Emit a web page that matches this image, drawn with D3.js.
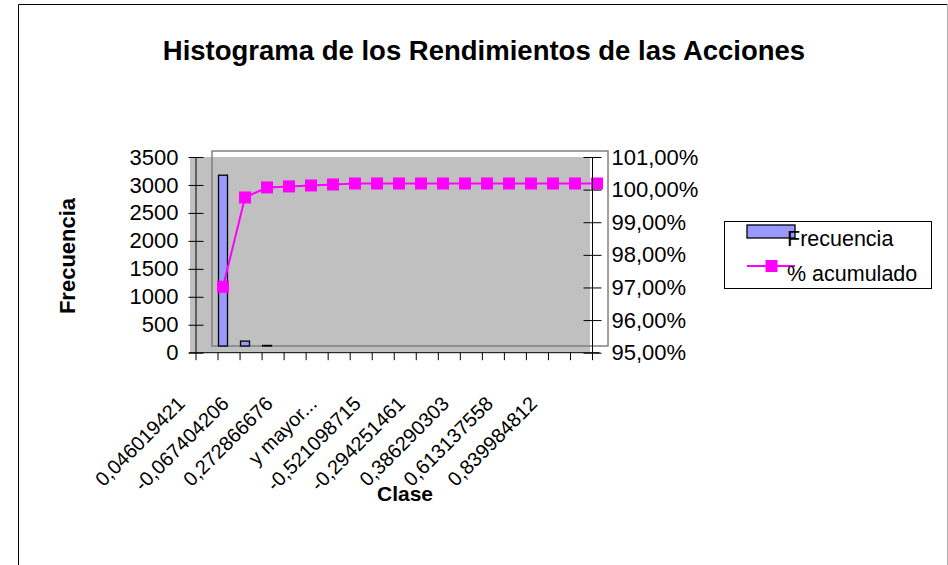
<!DOCTYPE html>
<html>
<head>
<meta charset="utf-8">
<script src="https://cdn.jsdelivr.net/npm/d3@7"></script>
<style>
body { margin: 0; background: #fff; }
svg { display: block; }
text { font-family: "Liberation Sans", Arial, sans-serif; fill: #000; }
</style>
</head>
<body>
<div id="graph"></div>
<script>
// valores (18 clases, solo se rotula una de cada dos)
var frecuencia = [3066, 88, 10, 1, 1, 1, 1, 0, 0, 0, 0, 0, 0, 0, 0, 0, 0, 0];
var acumulado = [96.82, 99.57, 99.88, 99.91, 99.94, 99.97, 100, 100, 100, 100, 100, 100, 100, 100, 100, 100, 100, 100];
var etiquetas = ["0,046019421", "-0,067404206", "0,272866676", "y mayor...", "-0,521098715",
                 "-0,294251461", "0,386290303", "0,613137558", "0,839984812"];
var ticksFrecuencia = [0, 500, 1000, 1500, 2000, 2500, 3000, 3500];
var ticksPorcentaje = [95, 96, 97, 98, 99, 100, 101];
var series = ["Frecuencia", "% acumulado"];

var width = 948, height = 565;
// marco de los ejes y marco de los datos (en el original estan desplazados)
var ejes = {l: 196, r: 592.5, t: 157, b: 352.7};
var datos = {l: 212, r: 608, t: 151, b: 346};

var svg = d3.select('#graph')
    .append('svg')
    .attr('width', width)
    .attr('height', height);

// borde del area del grafico
svg.append("path")
    .attr("d", "M18.5,570V4.5H947.5")
    .attr("fill", "none").attr("stroke", "#000");
svg.append("line")
    .attr("x1", 947.5).attr("x2", 947.5).attr("y1", 4.5).attr("y2", 570)
    .attr("stroke", "#b0b0b0");

svg.append("text")
    .attr("x", 484).attr("y", 60)
    .attr("text-anchor", "middle")
    .attr("font-weight", "bold")
    .attr("font-size", 27.5)
    .text("Histograma de los Rendimientos de las Acciones");

var clases = d3.range(frecuencia.length);

var xEje = d3.scaleBand().domain(clases).range([ejes.l, ejes.r]);
var xDatos = d3.scaleBand().domain(clases).range([datos.l, datos.r]);
var yFrecEje = d3.scaleLinear().domain([0, 3500]).range([ejes.b, ejes.t]);
var yFrecDatos = d3.scaleLinear().domain([0, 3500]).range([datos.b, datos.t]);
var yPctEje = d3.scaleLinear().domain([95, 101]).range([ejes.b, ejes.t]);
var yPctDatos = d3.scaleLinear().domain([95, 101]).range([datos.b, datos.t]);

// fondo gris
svg.append("rect")
    .attr("x", 190).attr("y", ejes.t)
    .attr("width", 400).attr("height", ejes.b - ejes.t)
    .attr("fill", "#c0c0c0");

// marco del area de trazado
svg.append("rect")
    .attr("x", datos.l).attr("y", datos.t)
    .attr("width", datos.r - datos.l).attr("height", datos.b - datos.t)
    .attr("fill", "none")
    .attr("stroke", "#808080")
    .attr("stroke-width", 1.5);

// barras (las de menos de medio pixel no se ven en el original)
var bw = 9;
svg.append("g")
    .selectAll('rect')
    .data(frecuencia)
    .enter()
    .filter(function(d) { return yFrecDatos(0) - yFrecDatos(d) > 0.3; })
    .append('rect')
    .attr("x", function(d) { return xDatos(frecuencia.indexOf(d)) + xDatos.bandwidth() / 2 - bw / 2; })
    .attr("y", function(d) { return yFrecDatos(d); })
    .attr("width", bw)
    .attr("height", function(d) { return yFrecDatos(0) - yFrecDatos(d); })
    .attr("fill", "#9999ff")
    .attr("stroke", "#000")
    .attr("stroke-width", 1.3);

// linea % acumulado
var linea = d3.line()
    .x(function(d, i) { return xDatos(i) + xDatos.bandwidth() / 2; })
    .y(function(d) { return yPctDatos(d); });

svg.append("path")
    .datum(acumulado)
    .attr("d", linea)
    .attr("fill", "none")
    .attr("stroke", "#ff00ff")
    .attr("stroke-width", 2);

var ms = 12;
svg.append("g")
    .selectAll("rect")
    .data(acumulado)
    .enter()
    .append("rect")
    .attr("x", function(d, i) { return xDatos(i) + xDatos.bandwidth() / 2 - ms / 2; })
    .attr("y", function(d) { return yPctDatos(d) - ms / 2; })
    .attr("width", ms).attr("height", ms)
    .attr("fill", "#ff00ff");

// eje izquierdo
var ejeIzq = d3.axisLeft(yFrecEje).tickValues(ticksFrecuencia).tickSize(15).tickPadding(10)
    .tickFormat(d3.format("d"));
svg.append("g")
    .attr("transform", "translate(" + (ejes.l + 7.5) + ",0)")
    .call(ejeIzq)
    .call(function(g) { g.select(".domain").remove(); })
    .call(function(g) {
        g.selectAll("text").attr("font-size", 22).attr("font-family", null).attr("fill", "#000");
        g.selectAll("line").attr("stroke", "#000");
    });

// eje derecho
var ejeDer = d3.axisRight(yPctEje).tickValues(ticksPorcentaje).tickSize(18).tickPadding(10)
    .tickFormat(function(d) { return d3.format(".2f")(d).replace(".", ",") + "%"; });
svg.append("g")
    .attr("transform", "translate(" + (ejes.r - 9) + ",0)")
    .call(ejeDer)
    .call(function(g) { g.select(".domain").remove(); })
    .call(function(g) {
        g.selectAll("text").attr("font-size", 22).attr("font-family", null).attr("fill", "#000");
        g.selectAll("line").attr("stroke", "#000");
    });

svg.append("line")
    .attr("x1", ejes.l).attr("x2", ejes.l).attr("y1", ejes.t).attr("y2", ejes.b)
    .attr("stroke", "#000");
svg.append("line")
    .attr("x1", ejes.r).attr("x2", ejes.r).attr("y1", ejes.t).attr("y2", ejes.b)
    .attr("stroke", "#000");

// eje inferior
svg.append("line")
    .attr("x1", ejes.l - 7).attr("x2", ejes.r + 7).attr("y1", ejes.b).attr("y2", ejes.b)
    .attr("stroke", "#000");
svg.append("g")
    .selectAll("line")
    .data(clases.concat([clases.length]))
    .enter()
    .append("line")
    .attr("x1", function(d) { return d < clases.length ? xEje(d) : ejes.r; })
    .attr("x2", function(d) { return d < clases.length ? xEje(d) : ejes.r; })
    .attr("y1", ejes.b).attr("y2", ejes.b + 7.5)
    .attr("stroke", "#000");

svg.append("g")
    .selectAll("text")
    .data(etiquetas)
    .enter()
    .append("text")
    .attr("transform", function(d, i) {
        var x = xEje(i * 2) + xEje.bandwidth() / 2 - 21;
        return "translate(" + x + ",405) rotate(-45)";
    })
    .attr("text-anchor", "end")
    .attr("font-size", 20)
    .text(function(d) { return d; });

// titulos de ejes
svg.append("text")
    .attr("transform", "translate(75,256) rotate(-90)")
    .attr("text-anchor", "middle")
    .attr("font-weight", "bold")
    .attr("font-size", 22)
    .text("Frecuencia");

svg.append("text")
    .attr("x", 405).attr("y", 501)
    .attr("text-anchor", "middle")
    .attr("font-weight", "bold")
    .attr("font-size", 21)
    .text("Clase");

// leyenda
var leyenda = svg.append("g");
leyenda.append("rect")
    .attr("x", 724.5).attr("y", 221.5).attr("width", 207).attr("height", 67)
    .attr("fill", "#fff").attr("stroke", "#000");
leyenda.append("rect")
    .attr("x", 747).attr("y", 225).attr("width", 48).attr("height", 13)
    .attr("fill", "#9999ff").attr("stroke", "#000").attr("stroke-width", 1.3);
leyenda.append("line")
    .attr("x1", 747).attr("x2", 795).attr("y1", 266).attr("y2", 266)
    .attr("stroke", "#ff00ff").attr("stroke-width", 2);
leyenda.append("rect")
    .attr("x", 771.5 - ms / 2).attr("y", 266 - ms / 2).attr("width", ms).attr("height", ms)
    .attr("fill", "#ff00ff");
leyenda.selectAll("text.serie")
    .data(series)
    .enter()
    .append("text")
    .attr("class", "serie")
    .attr("x", 787)
    .attr("y", function(d, i) { return 246 + i * 34.5; })
    .attr("font-size", 21.5)
    .text(function(d) { return d; });
</script>
</body>
</html>
